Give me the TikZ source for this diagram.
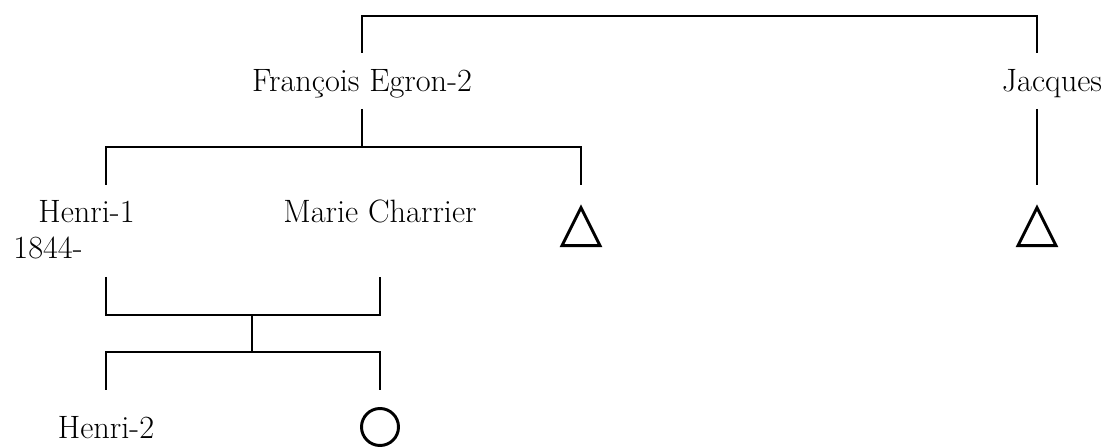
\documentclass[tikz,border=0pt]{standalone}
\usetikzlibrary{positioning,shapes.geometric}

\begin{document}
\begin{tikzpicture}[
    every node/.style={font=\fontsize{23}{27}\selectfont, inner sep=0pt},
    line/.style={line width=2.1pt},
    male/.style={draw, line width=2.1pt, isosceles triangle,
        isosceles triangle stretches, shape border rotate=90,
        minimum width=0.95cm, minimum height=0.95cm, anchor=apex},
    female/.style={draw, line width=2.1pt, circle, minimum size=0.925cm}]

    \useasboundingbox (0,0) rectangle (27.775,11.175);

    % levels of the bars
    \coordinate (bar0) at (0,10.775);
    \coordinate (stub0) at (0,9.85);
    \coordinate (drop1) at (0,8.45);
    \coordinate (bar1) at (0,7.5);
    \coordinate (stub1) at (0,6.55);
    \coordinate (stub2) at (0,4.25);
    \coordinate (bar2) at (0,3.3);
    \coordinate (bar3) at (0,2.375);
    \coordinate (stub3) at (0,1.425);

    % first generation
    \node[anchor=base] (francois) at (9.05,8.875) {François Egron-2};
    \node[anchor=base] (jacques) at (26.3,8.875) {Jacques};

    % second generation
    \node[anchor=base] (henri1) at (2.1625,5.6) {Henri-1};
    \node[anchor=base] (born) at (1.2,4.7) {1844-};
    \node[anchor=base] (marie) at (9.5,5.6) {Marie Charrier};
    \node[male] (son1) at (14.525,6.08) {};
    \node[male] (son2) at (25.925,6.08) {};

    % third generation
    \node[anchor=base] (henri2) at (2.65,0.22) {Henri-2};
    \node[female] (daughter) at (9.5,0.5) {};
    \coordinate (couple) at (6.3,3.3);

    \draw[line] (francois |- stub0) |- (son2 |- bar0) -- (son2 |- stub0);
    \draw[line] (francois |- drop1) -- (francois |- bar1);
    \draw[line] (henri2 |- stub1) |- (son1 |- bar1) -- (son1 |- stub1);
    \draw[line] (son2 |- drop1) -- (son2 |- stub1);

    \draw[line] (henri2 |- stub2) |- (marie |- bar2) -- (marie |- stub2);
    \draw[line] (couple) -- (couple |- bar3);
    \draw[line] (henri2 |- stub3) |- (daughter |- bar3) -- (daughter |- stub3);
\end{tikzpicture}
\end{document}
